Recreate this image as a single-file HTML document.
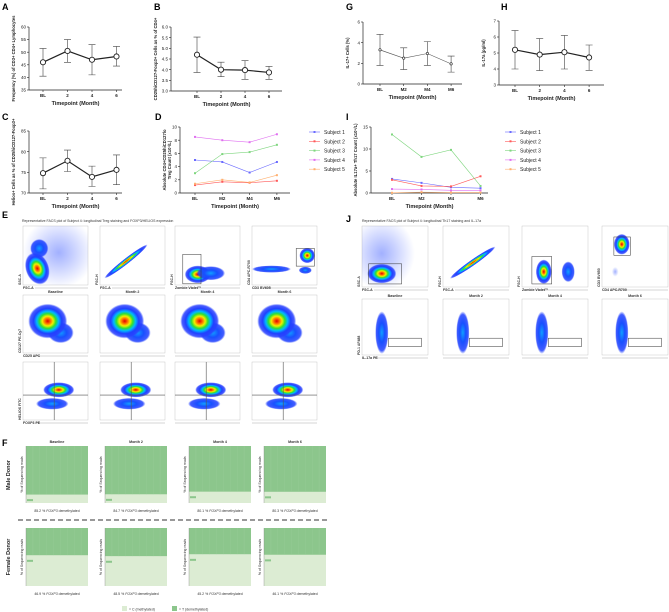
<!DOCTYPE html>
<html><head><meta charset="utf-8">
<style>
html,body{margin:0;padding:0;background:#fff;}
svg{display:block;font-family:"Liberation Sans",sans-serif;}
.tk{font-size:4.5px;fill:#222;}
.at{font-size:5.5px;font-weight:bold;fill:#222;}
.yl{font-size:4.2px;font-weight:bold;fill:#222;}
.pl{font-size:9px;font-weight:bold;fill:#000;}
.sm{font-size:3.5px;fill:#333;}
.cap{font-size:3.6px;font-weight:bold;fill:#333;}
</style></head>
<body>
<svg id="fig" width="669" height="612" viewBox="0 0 669 612">
<defs id="defs">
<radialGradient id="heat" cx="50%" cy="50%" r="50%">
<stop offset="0" stop-color="#e00000"/><stop offset="0.15" stop-color="#ff7000"/><stop offset="0.28" stop-color="#f0f000"/><stop offset="0.42" stop-color="#30e030"/><stop offset="0.56" stop-color="#00b8ff"/><stop offset="0.72" stop-color="#2040ff"/><stop offset="0.9" stop-color="#2a40ff" stop-opacity="0.85"/><stop offset="1" stop-color="#3050ff" stop-opacity="0"/>
</radialGradient>
<radialGradient id="cool" cx="50%" cy="50%" r="50%">
<stop offset="0" stop-color="#10a0ff"/><stop offset="0.45" stop-color="#1850ff"/><stop offset="0.85" stop-color="#2040ff" stop-opacity="0.85"/><stop offset="1" stop-color="#2040ff" stop-opacity="0"/>
</radialGradient>
<radialGradient id="haze" cx="50%" cy="50%" r="50%">
<stop offset="0" stop-color="#3050ff" stop-opacity="0.45"/><stop offset="1" stop-color="#3050ff" stop-opacity="0"/>
</radialGradient>
</defs>
<g id="root"></g>
</svg>
<script>
// ---- data ----
const catsNum = ["BL","2","4","6"];
const catsM = ["BL","M2","M4","M6"];
const subjects = ["Subject 1","Subject 2","Subject 3","Subject 4","Subject 5"];
const subjColors = ["#6a6aff","#ff5a5a","#7fd67f","#e070f0","#ffb070"];
const aMean = [46,50.5,47,48.3];
const aLo = [40.5,46,41,44.5];
const aHi = [51.5,55,53,52.3];
const aTicks = [35,40,45,50,55,60];
const bMean = [4.7,4.0,3.98,3.87];
const bLo = [3.87,3.67,3.55,3.55];
const bHi = [5.53,4.35,4.42,4.15];
const bTicks = ["3.0","3.5","4.0","4.5","5.0","5.5","6.0"];
const cMean = [74.8,77.8,73.9,75.6];
const cLo = [71,75.2,71.6,72];
const cHi = [78.5,80.4,76.5,79.2];
const cTicks = [70,75,80,85];
const dS1 = [5,4.7,3.1,4.7];
const dS2 = [1.2,1.7,1.55,1.85];
const dS3 = [3,5.9,6.2,7.3];
const dS4 = [8.5,8,7.7,8.9];
const dS5 = [1.4,2,1.6,2.7];
const dTicks = [0,2,4,6,8,10];
const gMean = [3.3,2.5,2.95,1.95];
const gLo = [1.8,1.4,1.8,1.15];
const gHi = [4.8,3.5,4.1,2.7];
const gTicks = [0,2,4,6];
const hMean = [5.2,4.9,5.05,4.72];
const hLo = [4,3.9,4,3.92];
const hHi = [6.4,5.9,6.1,5.5];
const hTicks = [3,4,5,6,7];
const iS1 = [3.2,2.3,1.3,1.1];
const iS2 = [3.0,1.6,1.5,3.8];
const iS3 = [13.3,8.2,9.8,1.6];
const iS4 = [0.9,0.8,0.6,0.6];
const iS5 = [0.05,0.2,0.1,0.1];
const iTicks = [0,5,10,15];
const maleDemeth = [85.2,84.7,80.1,80.3];
const femaleDemeth = [46.9,48.5,45.2,46.1];
const months = ["Baseline","Month 2","Month 4","Month 6"];

const NS="http://www.w3.org/2000/svg";
const root=document.getElementById('root');
const defs=document.getElementById('defs');
function mk(tag,attrs,parent,text){const e=document.createElementNS(NS,tag);for(const k in attrs)e.setAttribute(k,attrs[k]);if(text!==undefined)e.textContent=text;(parent||root).appendChild(e);return e;}

function axes(cfg){
  const g=mk('g',{});
  
  
  const sy=v=>cfg.yb-(v-cfg.min)/(cfg.max-cfg.min)*(cfg.yb-cfg.yt);
  const sx=i=>cfg.x0+i*cfg.step;
  mk('line',{x1:cfg.xa,y1:cfg.yt,x2:cfg.xa,y2:cfg.yb,stroke:'#222','stroke-width':0.7},g);
  mk('line',{x1:cfg.xa,y1:cfg.yb,x2:cfg.xe,y2:cfg.yb,stroke:'#222','stroke-width':0.7},g);
  cfg.ticks.forEach(t=>{const y=sy(parseFloat(t));
    mk('line',{x1:cfg.xa-2,y1:y,x2:cfg.xa,y2:y,stroke:'#222','stroke-width':0.6},g);
    const tt=mk('text',{x:cfg.xa-3,y:y+1.6,'text-anchor':'end',class:'tk'},g,String(t));
    
    });
  cfg.cats.forEach((c,i)=>{const x=sx(i);
    mk('line',{x1:x,y1:cfg.yb,x2:x,y2:cfg.yb+2,stroke:'#222','stroke-width':0.6},g);
    const tt=mk('text',{x:x,y:cfg.yb+7,'text-anchor':'middle',class:'tk','font-weight':'bold'},g,c);
    
    });
  const xt=mk('text',{x:(cfg.xa+cfg.xe)/2,y:cfg.yb+15,'text-anchor':'middle',class:'at'},g,'Timepoint (Month)');
  
  
  const yc=(cfg.yt+cfg.yb)/2;
  cfg.ylab.forEach((l,k)=>{
    const yt=mk('text',{x:0,y:0,'text-anchor':'middle',class:'yl',transform:`translate(${cfg.xa-14+k*5},${yc}) rotate(-90)`},g,l);
    
    });
  return {g,sx,sy};
}
function errChart(cfg,mean,lo,hi,thin){
  const {g,sx,sy}=axes(cfg);
  let d='';mean.forEach((v,i)=>{d+=(i?'L':'M')+sx(i)+' '+sy(v);});
  const ln=mk('path',{d:d,fill:'none',stroke:thin?'#555':'#222','stroke-width':thin?0.6:1.2},g);
  
  
  mean.forEach((v,i)=>{const x=sx(i);
    const eb=mk('path',{d:`M${x} ${sy(lo[i])}V${sy(hi[i])}M${x-3.5} ${sy(lo[i])}h7M${x-3.5} ${sy(hi[i])}h7`,stroke:'#444','stroke-width':0.6,fill:'none'},g);
    
    
    const p=mk('circle',{cx:x,cy:sy(v),r:thin?1.2:2.6,fill:'#fff',stroke:'#222','stroke-width':thin?0.6:0.9},g);
    
    });
}
function subjChart(cfg,series,legX,legY){
  const {g,sx,sy}=axes(cfg);
  series.forEach((s,k)=>{let d='';s.forEach((v,i)=>{d+=(i?'L':'M')+sx(i)+' '+sy(v);});
    const ln=mk('path',{d:d,fill:'none',stroke:subjColors[k],'stroke-width':0.6},g);
    
    
    s.forEach((v,i)=>{const p=mk('rect',{x:sx(i)-1,y:sy(v)-1,width:2,height:2,fill:subjColors[k]},g);
      
      });
    const le=mk('g',{},g);
    
    
    const y=legY+k*9.3;
    mk('line',{x1:legX,y1:y,x2:legX+11,y2:y,stroke:subjColors[k],'stroke-width':0.6},le);
    mk('rect',{x:legX+4.5,y:y-1,width:2,height:2,fill:subjColors[k]},le);
    mk('text',{x:legX+15,y:y+2,style:'font-size:5px;fill:#222'},le,subjects[k]);
  });
}
function letter(t,x,y){const e=mk('text',{x:x,y:y,class:'pl'},root,t);}

letter('A',2,10);letter('B',154,10);letter('C',2,120);letter('D',155,120);
letter('G',346,10);letter('H',501,10);letter('I',346,120);letter('E',2,218);letter('J',346,222);letter('F',2,446);

errChart({name:'panel-a-chart',xa:29,xe:122,yt:27,yb:90,min:35,max:60,x0:43,step:24.5,ticks:aTicks,cats:catsNum,ylab:['Frequency (%) of CD3+ CD4+ Lymphocytes']},aMean,aLo,aHi);
errChart({name:'panel-b-chart',xa:171,xe:282,yt:27,yb:91,min:3,max:6,x0:197,step:24,ticks:bTicks,cats:catsNum,ylab:['CD25hiCD127-Foxp3+ Cells as % of CD4+']},bMean,bLo,bHi);
errChart({name:'panel-c-chart',xa:29,xe:122,yt:131,yb:193,min:70,max:85,x0:43,step:24.5,ticks:cTicks,cats:catsNum,ylab:['Helios+ Cells as % of CD25hiCD127-Foxp3+']},cMean,cLo,cHi);
subjChart({name:'panel-d-chart',xa:180,xe:290,yt:127,yb:193,min:0,max:10,x0:195,step:27.3,ticks:dTicks,cats:catsM,ylab:['Absolute CD4+CD25hiCD127lo','Treg Count (x10⁷/L)']},[dS1,dS2,dS3,dS4,dS5],309,132);
errChart({name:'panel-g-chart',xa:363,xe:462,yt:22,yb:84,min:0,max:6,x0:380,step:23.7,ticks:gTicks,cats:catsM,ylab:['IL-17+ Cells (%)']},gMean,gLo,gHi,true);
errChart({name:'panel-h-chart',xa:499,xe:604,yt:21,yb:85,min:3,max:7,x0:515,step:24.7,ticks:hTicks,cats:catsNum,ylab:['IL-17a (pg/ml)']},hMean,hLo,hHi);
subjChart({name:'panel-i-chart',xa:371,xe:488,yt:127,yb:193,min:0,max:15,x0:392,step:29.5,ticks:iTicks,cats:catsM,ylab:['Absolute IL17a+ Th17 Count (x10⁵/L)']},[iS1,iS2,iS3,iS4,iS5],505,132);

// ---- FACS panels ----
let clipN=0;
function facs(x,y,w,h,blobs,opts){
  const g=mk('g',{});
  
  
  const cid='clip'+(clipN++);
  const cp=mk('clipPath',{id:cid},defs);
  mk('rect',{x:x,y:y,width:w,height:h},cp);
  mk('rect',{x:x,y:y,width:w,height:h,fill:'#fff',stroke:'#bbb','stroke-width':0.4},g);
  const inner=mk('g',{'clip-path':`url(#${cid})`},g);
  blobs.forEach(b=>mk('ellipse',{cx:x+b[0]*w,cy:y+b[1]*h,rx:b[2]*w,ry:b[3]*h,fill:`url(#${b[4]||'heat'})`,transform:b[5]?`rotate(${b[5]} ${x+b[0]*w} ${y+b[1]*h})`:''},inner));
  if(opts.gate) mk('rect',{x:x+opts.gate[0]*w,y:y+opts.gate[1]*h,width:opts.gate[2]*w,height:opts.gate[3]*h,fill:'none',stroke:'#333','stroke-width':0.5},g);
  if(opts.quad){mk('line',{x1:x+opts.quad[0]*w,y1:y,x2:x+opts.quad[0]*w,y2:y+h,stroke:'#555','stroke-width':0.6},g);mk('line',{x1:x,y1:y+opts.quad[1]*h,x2:x+w,y2:y+opts.quad[1]*h,stroke:'#555','stroke-width':0.6},g);}
  if(opts.title) mk('text',{x:x+w/2,y:y-2,'text-anchor':'middle',class:'cap'},g,opts.title);
  mk('line',{x1:x+(opts.xl?12:0),y1:y+h+3,x2:x+w,y2:y+h+3,stroke:'#777','stroke-width':0.3},g);
  if(opts.xl) mk('text',{x:x,y:y+h+4,class:'sm','font-weight':'bold'},g,opts.xl);
  if(opts.yl) mk('text',{x:0,y:0,class:'sm','font-weight':'bold','text-anchor':'start',transform:`translate(${x-2},${y+h}) rotate(-90)`},g,opts.yl);
}
mk('text',{x:22,y:222,class:'sm'},root,'Representative FACS plot of Subject 4: longitudinal Treg staining and FOXP3/HELIOS expression');
const eX=[23,100,175,252], eW=65;
facs(eX[0],226,eW,59,[[0.55,0.45,0.55,0.6,'haze'],[0.22,0.72,0.18,0.28,'heat',-20],[0.25,0.38,0.14,0.16,'cool']],{name:'e-facs-lymphocytes',xl:'FSC-A',yl:'SSC-A'});
facs(eX[1],226,eW,59,[[0.4,0.6,0.42,0.05,'heat',-38]],{name:'e-facs-single-cells',xl:'FSC-A',yl:'FSC-H'});
facs(eX[2],226,eW,59,[[0.35,0.82,0.2,0.15,'heat'],[0.55,0.8,0.22,0.12,'cool']],{name:'e-facs-live-cells',gate:[0.12,0.48,0.28,0.5],xl:'Zombie Violet™',yl:'FSC-H'});
facs(eX[3],226,eW,59,[[0.3,0.73,0.3,0.06,'cool'],[0.85,0.5,0.12,0.13,'heat'],[0.82,0.75,0.1,0.06,'cool']],{name:'e-facs-cd4',gate:[0.68,0.38,0.28,0.3],xl:'CD3 BV605',yl:'CD4 APC-R700'});
for(let i=0;i<4;i++){facs(eX[i],295,eW,58,[[0.58,0.65,0.2,0.18,'cool'],[0.38,0.45,0.3,0.3,'heat']],{name:'e-facs-treg-'+(i+1),title:months[i],xl:i==0?'CD25 APC':'',yl:i==0?'CD127 PE-Cy7':''});
 facs(eX[i],362,eW,58,[[0.45,0.72,0.25,0.1,'cool'],[0.55,0.48,0.24,0.13,'heat']],{name:'e-facs-helios-'+(i+1),quad:[0.48,0.57],xl:i==0?'FOXP3 PE':'',yl:i==0?'HELIOS FITC':''});}
mk('text',{x:362,y:222,class:'sm'},root,'Representative FACS plot of Subject 4: longitudinal Th17 staining and IL-17a');
const jX=[362,443,522,602], jW=66;
facs(jX[0],226,jW,61,[[0.3,0.45,0.5,0.6,'haze'],[0.3,0.78,0.22,0.16,'heat']],{name:'j-facs-lymphocytes',gate:[0.1,0.62,0.5,0.33],xl:'FSC-A',yl:'SSC-A'});
facs(jX[1],226,jW,61,[[0.45,0.6,0.42,0.05,'heat',-35]],{name:'j-facs-single-cells',xl:'FSC-A',yl:'FSC-H'});
facs(jX[2],226,jW,61,[[0.33,0.75,0.12,0.2,'heat'],[0.7,0.75,0.1,0.17,'cool']],{name:'j-facs-live-cells',gate:[0.15,0.5,0.3,0.45],xl:'Zombie Violet™',yl:'FSC-H'});
facs(jX[3],226,jW,61,[[0.3,0.3,0.12,0.17,'heat'],[0.2,0.75,0.05,0.08,'haze']],{name:'j-facs-cd4',gate:[0.18,0.18,0.25,0.3],xl:'CD4 APC-R700',yl:'CD3 BV650'});
for(let i=0;i<4;i++){facs(jX[i],299,jW,56,[[0.3,0.6,0.1,0.38,'cool']],{name:'j-facs-il17-'+(i+1),title:months[i],gate:[0.4,0.7,0.5,0.15],xl:i==0?'IL-17a PE':'',yl:i==0?'PD-1 AF488':''});}

// ---- F methylation panels ----
const fX=[26,105,189,264], fW=62;
function methPanel(x,y,h,pct,name){
  const g=mk('g',{});
  
  
  mk('rect',{x:x,y:y,width:fW,height:h,fill:'#dcecd3'},g);
  mk('rect',{x:x,y:y,width:fW,height:h*pct/100,fill:'#8cc68c'},g);
  for(let k=1;k<9;k++) mk('line',{x1:x+k*fW/9,y1:y,x2:x+k*fW/9,y2:y+h*pct/100,stroke:'#9ccf9c','stroke-width':0.3},g);
  mk('rect',{x:x+1,y:y+h*pct/100+h*0.08,width:6,height:2,fill:'#8cc68c'},g);
  mk('line',{x1:x,y1:y,x2:x,y2:y+h,stroke:'#888','stroke-width':0.4},g);
  mk('text',{x:0,y:0,class:'sm','text-anchor':'middle',transform:`translate(${x-3},${y+h/2}) rotate(-90)`},g,'% of Sequencing reads');
  const t=mk('text',{x:x+fW/2,y:y+h+9,class:'sm','text-anchor':'middle','font-size':'4px'},g);
  t.innerHTML=pct.toFixed(1)+' % <tspan font-style="italic">FOXP3</tspan> demethylated';
}
for(let i=0;i<4;i++){
  mk('text',{x:fX[i]+fW/2,y:443,class:'cap','text-anchor':'middle'},root,months[i]);
  methPanel(fX[i],446,57,maleDemeth[i],'male-meth-'+(i+1));
  methPanel(fX[i],528,58,femaleDemeth[i],'female-meth-'+(i+1));
}
mk('line',{x1:18,y1:520,x2:330,y2:520,stroke:'#333','stroke-width':1,'stroke-dasharray':'5 3'},root);
mk('text',{x:0,y:0,class:'at','text-anchor':'middle',transform:'translate(10,475) rotate(-90)'},root,'Male Donor');
mk('text',{x:0,y:0,class:'at','text-anchor':'middle',transform:'translate(10,557) rotate(-90)'},root,'Female Donor');
const lg=mk('g',{});


mk('rect',{x:122,y:606,width:5,height:5,fill:'#dcecd3'},lg);
mk('text',{x:129,y:610.5,class:'sm','font-size':'4.5px'},lg,'= C (methylated)');
mk('rect',{x:172,y:606,width:5,height:5,fill:'#8cc68c'},lg);
mk('text',{x:179,y:610.5,class:'sm','font-size':'4.5px'},lg,'= T (demethylated)');
</script>
</body></html>
